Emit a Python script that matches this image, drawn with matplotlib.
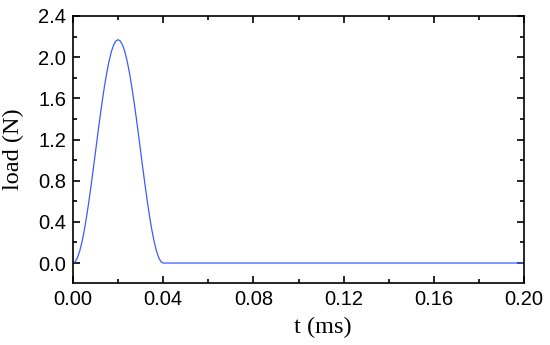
import matplotlib
matplotlib.use('Agg')
import matplotlib.pyplot as plt
from matplotlib.ticker import MultipleLocator

# values (pulse, then flat zero)
t_ms = [0.000, 0.001, 0.002, 0.003, 0.004, 0.005, 0.006, 0.007, 0.008, 0.009,
        0.010, 0.011, 0.012, 0.013, 0.014, 0.015, 0.016, 0.017, 0.018, 0.019,
        0.020, 0.021, 0.022, 0.023, 0.024, 0.025, 0.026, 0.027, 0.028, 0.029,
        0.030, 0.031, 0.032, 0.033, 0.034, 0.035, 0.036, 0.037, 0.038, 0.039,
        0.040, 0.200]
load_n = [0.000, 0.013, 0.053, 0.118, 0.207, 0.318, 0.447, 0.592, 0.750, 0.915,
          1.085, 1.255, 1.420, 1.578, 1.723, 1.852, 1.963, 2.052, 2.117, 2.157,
          2.170, 2.157, 2.117, 2.052, 1.963, 1.852, 1.723, 1.578, 1.420, 1.255,
          1.085, 0.915, 0.750, 0.592, 0.447, 0.318, 0.207, 0.118, 0.053, 0.013,
          0.000, 0.000]

fig = plt.figure(figsize=(5.5, 3.45), dpi=100)
ax = fig.add_axes([73 / 550, 1 - 283 / 345, 451 / 550, 267 / 345])

ax.plot(t_ms, load_n, color='#3a5cff', linewidth=0.9)

ax.set_xlim(0, 0.2)
ax.set_ylim(-0.194, 2.4)
ax.xaxis.set_major_locator(MultipleLocator(0.04))
ax.xaxis.set_minor_locator(MultipleLocator(0.02))
ax.yaxis.set_major_locator(MultipleLocator(0.4))
ax.yaxis.set_minor_locator(MultipleLocator(0.2))
ax.xaxis.set_major_formatter(plt.FormatStrFormatter('%.2f'))
ax.yaxis.set_major_formatter(plt.FormatStrFormatter('%.1f'))

ax.tick_params(which='both', direction='in', top=True, right=True, width=1.2)
ax.tick_params(which='major', length=5, labelsize=14.5, pad=5)
ax.tick_params(which='minor', length=3)
for lab in ax.get_xticklabels() + ax.get_yticklabels():
    lab.set_family('Liberation Sans')
for s in ax.spines.values():
    s.set_linewidth(1.2)

ax.set_xlabel('t (ms)', family='Liberation Serif', fontsize=17.5)
ax.set_ylabel('load (N)', family='Liberation Serif', fontsize=17.5)
ax.xaxis.set_label_coords(0.553, -0.128)
ax.yaxis.set_label_coords(-0.108, 0.5)

plt.savefig('out.png', dpi=100)
